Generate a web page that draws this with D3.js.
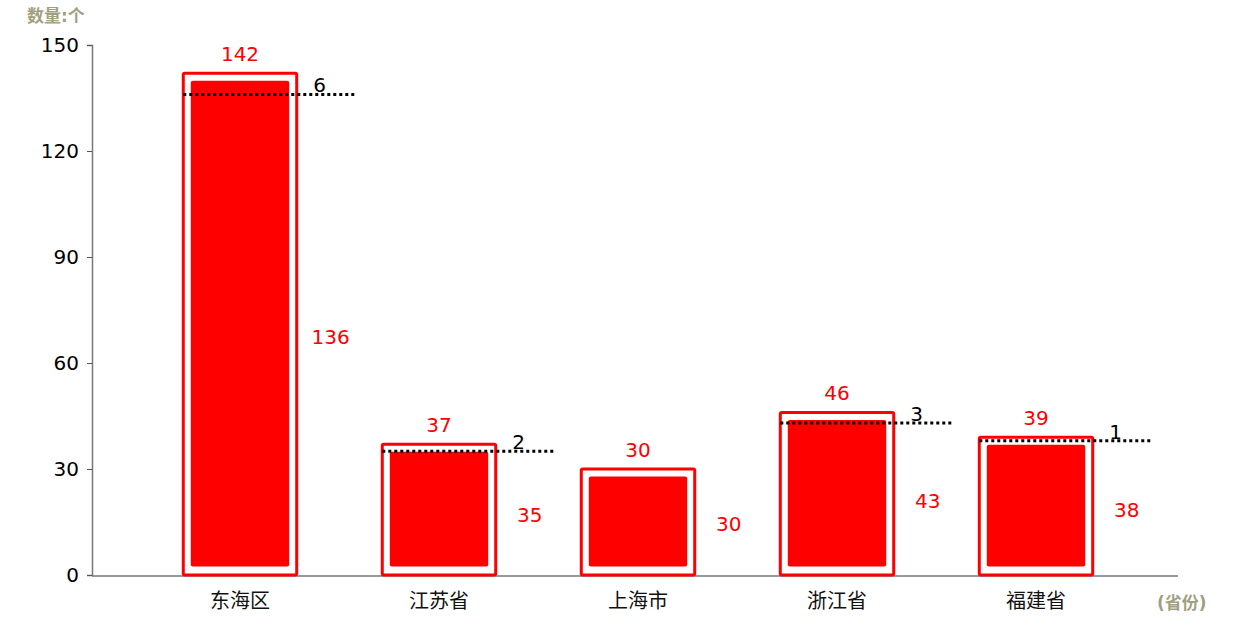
<!DOCTYPE html>
<html lang="zh">
<head>
<meta charset="UTF-8">
<title>数量</title>
<style>
  body { margin: 0; background: #fff; }
  text { font-family: "DejaVu Sans", "Noto Sans CJK SC", sans-serif; }
</style>
</head>
<body>
<script src="https://cdn.jsdelivr.net/npm/d3@7"></script>
<script>
const provinces = ["东海区", "江苏省", "上海市", "浙江省", "福建省"];
const totals = [142, 37, 30, 46, 39];
const inner = [136, 35, 30, 43, 38];
const yTicks = [0, 30, 60, 90, 120, 150];

const width = 1240, height = 635;
const mLeft = 92, mRight = 1178, mTop = 45, mBottom = 575;

const svg = d3.select("body").append("svg")
  .attr("width", width)
  .attr("height", height);

const x = d3.scaleBand()
  .domain(provinces)
  .range([140.5, 1135.5])
  .paddingInner(0.43)
  .paddingOuter(0.215);

const y = d3.scaleLinear().domain([0, 150]).range([mBottom, mTop]);

// y axis
const yAxis = svg.append("g")
  .attr("transform", `translate(${mLeft},0)`)
  .call(d3.axisLeft(y).tickValues(yTicks).tickSize(5).tickPadding(8));
yAxis.select(".domain").attr("stroke", "#777").attr("stroke-width", 1.5);
yAxis.selectAll(".tick line").attr("stroke", "#555");
yAxis.selectAll(".tick text").attr("font-size", 20).attr("fill", "#000")
  .style("font-family", "DejaVu Sans, sans-serif");

// x axis
svg.append("line")
  .attr("x1", mLeft).attr("x2", mRight)
  .attr("y1", mBottom + 1).attr("y2", mBottom + 1)
  .attr("stroke", "#777").attr("stroke-width", 1.5);

svg.selectAll(".cat")
  .data(provinces)
  .enter().append("text")
  .attr("x", d => x(d) + x.bandwidth() / 2)
  .attr("y", 608)
  .attr("text-anchor", "middle")
  .attr("font-size", 20)
  .attr("fill", "#111")
  .text(d => d);

const data = provinces.map((p, i) => ({ p, total: totals[i], inner: inner[i] }));

const g = svg.selectAll(".bar").data(data).enter().append("g");

// outer outlined bar
g.append("rect")
  .attr("x", d => x(d.p))
  .attr("y", d => y(d.total))
  .attr("width", x.bandwidth())
  .attr("height", d => mBottom - y(d.total))
  .attr("fill", "#fff")
  .attr("stroke", "#ff0000")
  .attr("stroke-width", 3)
  .attr("rx", 1.5);

// inner filled bar
g.append("rect")
  .attr("x", d => x(d.p) + 7.5)
  .attr("y", d => y(d.total) + 7.5)
  .attr("width", x.bandwidth() - 15)
  .attr("height", d => mBottom - y(d.total) - 16)
  .attr("fill", "#ff0000")
  .attr("rx", 2);

// dotted line at inner value
const diff = g.filter(d => d.total !== d.inner);
diff.append("line")
  .attr("x1", d => x(d.p))
  .attr("x2", d => x(d.p) + x.bandwidth() + 59)
  .attr("y1", d => y(d.inner))
  .attr("y2", d => y(d.inner))
  .attr("stroke", "#000")
  .attr("stroke-width", 3)
  .attr("stroke-dasharray", "3,3");

diff.append("text")
  .attr("x", d => x(d.p) + x.bandwidth() + 23)
  .attr("y", d => y(d.inner) - 2)
  .attr("text-anchor", "middle")
  .attr("font-size", 20)
  .attr("fill", "#000")
  .text(d => d.total - d.inner);

// total label
g.append("text")
  .attr("x", d => x(d.p) + x.bandwidth() / 2)
  .attr("y", d => y(d.total) - 12)
  .attr("text-anchor", "middle")
  .attr("font-size", 20)
  .attr("fill", "#ff0000")
  .text(d => d.total);

// inner label
g.append("text")
  .attr("x", d => x(d.p) + x.bandwidth() + 34)
  .attr("y", d => (y(d.inner) + mBottom) / 2 + 9)
  .attr("text-anchor", "middle")
  .attr("font-size", 20)
  .attr("fill", "#ff0000")
  .text(d => d.inner);

// axis titles
svg.append("text")
  .attr("x", 27).attr("y", 22)
  .attr("font-size", 17).attr("font-weight", "bold")
  .attr("fill", "#a09f80")
  .text("数量:个");

svg.append("text")
  .attr("x", 1157).attr("y", 609)
  .attr("font-size", 17).attr("font-weight", "bold")
  .attr("fill", "#a09f80")
  .text("(省份)");
</script>
</body>
</html>
